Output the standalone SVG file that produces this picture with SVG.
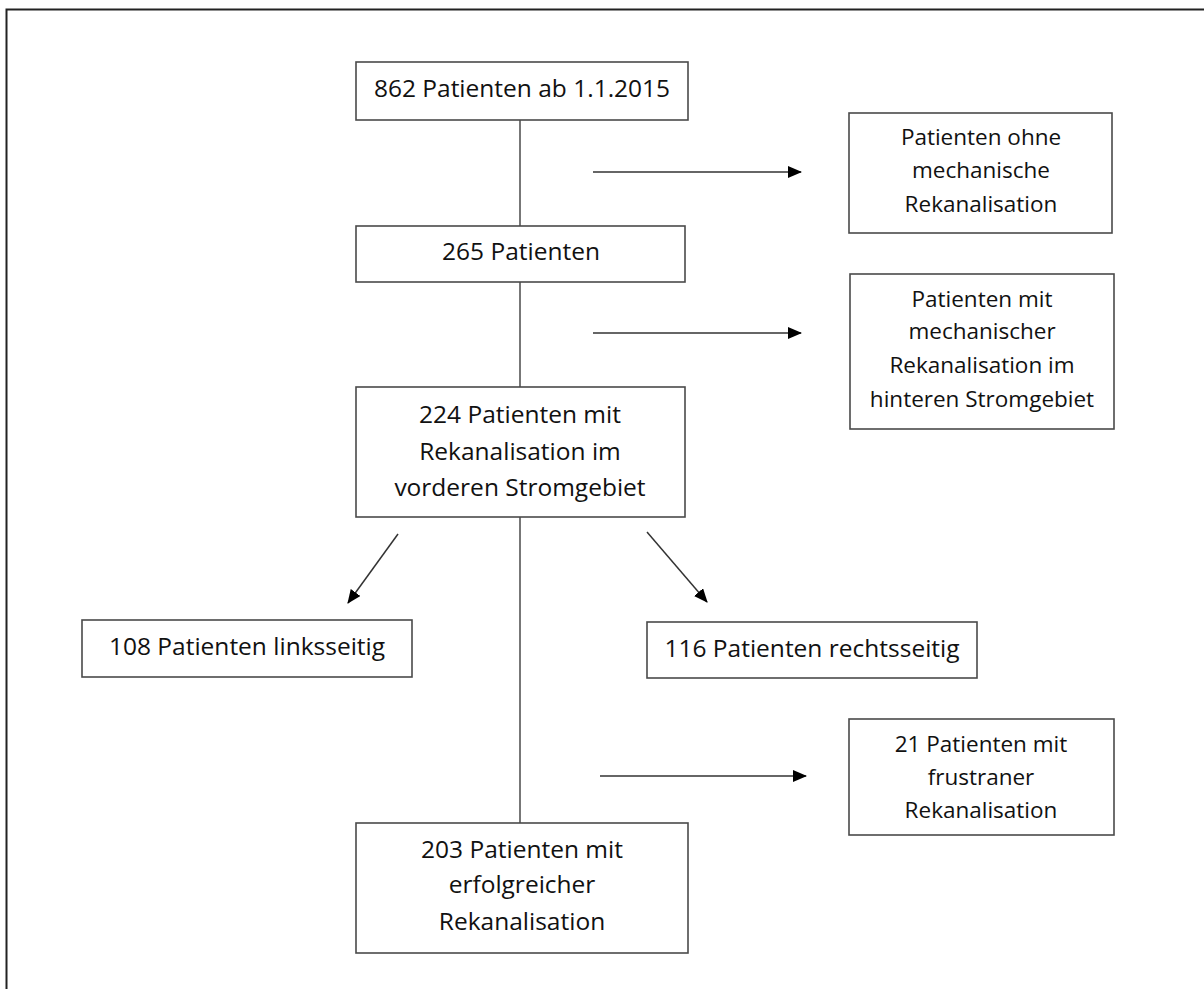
<svg xmlns="http://www.w3.org/2000/svg" width="1204" height="989" viewBox="0 0 1204 989">
<style>
.box{fill:#fff;stroke:#4a4a4a;stroke-width:1.6}
.t{font-family:"Open Sans","Liberation Sans",sans-serif;font-size:24.5px;fill:#111;text-anchor:middle}
.s{font-family:"Open Sans","Liberation Sans",sans-serif;font-size:22.5px;fill:#111;text-anchor:middle}
.c{stroke:#4a4a4a;stroke-width:1.5;fill:none}
.a{stroke:#333;stroke-width:1.5;fill:none;marker-end:url(#ah)}
.frame{stroke:#222;stroke-width:2;fill:none}
</style>
<defs>
<marker id="ah" viewBox="0 0 14 12" refX="13" refY="6" markerWidth="14" markerHeight="12" markerUnits="userSpaceOnUse" orient="auto">
<path d="M0,0 L14,6 L0,12 Z" fill="#000"/>
</marker>
</defs>
<path class="frame" d="M6.5,989 V9.5 H1204"/>
<g id="connectors">
<line class="c" x1="520" y1="120" x2="520" y2="226"/>
<line class="c" x1="520" y1="282" x2="520" y2="387"/>
<line class="c" x1="520" y1="517" x2="520" y2="823"/>
<line class="a" x1="593" y1="172" x2="801" y2="172"/>
<line class="a" x1="593" y1="333" x2="801" y2="333"/>
<line class="a" x1="600" y1="776" x2="806" y2="776"/>
<line class="a" x1="398" y1="534" x2="348" y2="603"/>
<line class="a" x1="647" y1="532" x2="707" y2="602"/>
</g>
<g id="n1">
<rect class="box" x="356" y="62" width="332" height="58"/>
<text class="t" x="522" y="97">862 Patienten ab 1.1.2015</text>
</g>
<g id="n2">
<rect class="box" x="356" y="226" width="329" height="56"/>
<text class="t" x="521" y="260">265 Patienten</text>
</g>
<g id="n3">
<rect class="box" x="356" y="387" width="329" height="130"/>
<text class="t" x="520" y="423">224 Patienten mit</text>
<text class="t" x="520" y="460">Rekanalisation im</text>
<text class="t" x="520" y="496">vorderen Stromgebiet</text>
</g>
<g id="r1">
<rect class="box" x="849" y="113" width="263" height="120"/>
<text class="s" x="981" y="145">Patienten ohne</text>
<text class="s" x="981" y="178">mechanische</text>
<text class="s" x="981" y="212">Rekanalisation</text>
</g>
<g id="r2">
<rect class="box" x="850" y="274" width="264" height="155"/>
<text class="s" x="982" y="307">Patienten mit</text>
<text class="s" x="982" y="339">mechanischer</text>
<text class="s" x="982" y="373">Rekanalisation im</text>
<text class="s" x="982" y="407">hinteren Stromgebiet</text>
</g>
<g id="l1">
<rect class="box" x="82" y="620" width="330" height="57"/>
<text class="t" x="247" y="655">108 Patienten linksseitig</text>
</g>
<g id="l2">
<rect class="box" x="647" y="622" width="330" height="56"/>
<text class="t" x="812" y="657">116 Patienten rechtsseitig</text>
</g>
<g id="r3">
<rect class="box" x="849" y="719" width="265" height="116"/>
<text class="s" x="981" y="752">21 Patienten mit</text>
<text class="s" x="981" y="785">frustraner</text>
<text class="s" x="981" y="818">Rekanalisation</text>
</g>
<g id="n4">
<rect class="box" x="356" y="823" width="332" height="130"/>
<text class="t" x="522" y="858">203 Patienten mit</text>
<text class="t" x="522" y="893">erfolgreicher</text>
<text class="t" x="522" y="930">Rekanalisation</text>
</g>
</svg>
